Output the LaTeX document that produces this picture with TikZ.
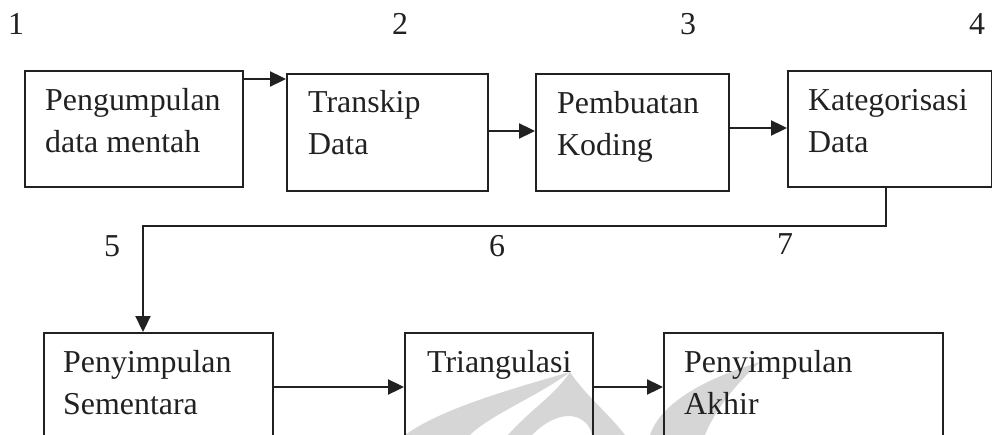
\documentclass[tikz,border=0pt]{standalone}
\usepackage{fontspec}
\setmainfont{Liberation Serif}
\usetikzlibrary{arrows.meta,calc}
\begin{document}
\begin{tikzpicture}[x=1pt,y=-1pt,
  ln/.style={draw=black!87, line width=2.3pt},
  box/.style={ln, rectangle, inner sep=0pt, anchor=north west},
  txt/.style={font=\fontsize{31.9}{42}\selectfont, align=left, inner sep=0pt, anchor=north west, text=black!87},
  num/.style={font=\fontsize{31.9}{38}\selectfont, inner sep=0pt, anchor=base, text=black!87},
  arr/.style={ln, -{Triangle[length=16pt,width=15pt]}},
  wm/.style={fill=black!16, draw=none}]
\useasboundingbox (0,0) rectangle (992,435);
\clip (0,0) rectangle (992,435);
% watermark
\fill[wm] (405,435) .. controls (440,410) and (500,392) .. (570,372)
  .. controls (540,395) and (490,415) .. (470,435) -- cycle;
\fill[wm] (570,372) .. controls (585,395) and (610,415) .. (625,435) -- (592,435)
  .. controls (588,415) and (562,405) .. (532,435) -- (508,435)
  .. controls (530,410) and (555,395) .. (570,372) -- cycle;
\fill[wm] (760,362) .. controls (700,380) and (660,405) .. (650,435) -- (705,435)
  .. controls (715,410) and (735,385) .. (760,362) -- cycle;
% boxes
\node[box, minimum width=218pt, minimum height=116pt] (b1) at (24,70) {};
\node[box, minimum width=201pt, minimum height=117pt] (b2) at (286,73) {};
\node[box, minimum width=193pt, minimum height=117pt] (b3) at (535,73) {};
\node[box, minimum width=204pt, minimum height=116pt] (b4) at (787,70) {};
\node[box, minimum width=229pt, minimum height=118pt] (b5) at (43,332) {};
\node[box, minimum width=188pt, minimum height=118pt] (b6) at (404,332) {};
\node[box, minimum width=279pt, minimum height=118pt] (b7) at (663,332) {};
% texts
\node[txt] (t1) at ($(b1.north west)+(21,10.6)$) {\strut Pengumpulan\\data mentah};
\node[txt] (t2) at ($(b2.north west)+(22,9.6)$) {\strut Transkip\\Data};
\node[txt] (t3) at ($(b3.north west)+(22,10.6)$) {\strut Pembuatan\\Koding};
\node[txt] (t4) at ($(b4.north west)+(21,10.6)$) {\strut Kategorisasi\\Data};
\node[txt] (t5) at ($(b5.north west)+(20,10.6)$) {\strut Penyimpulan\\Sementara};
\node[txt] (t6) at ($(b6.north west)+(23,10.6)$) {\strut Triangulasi};
\node[txt] (t7) at ($(b7.north west)+(21,10.6)$) {\strut Penyimpulan\\Akhir};
% numbers
\node[num] (n1) at (16,35) {1};
\node[num] (n2) at (400,35) {2};
\node[num] (n3) at (688,35) {3};
\node[num] (n4) at (977,35) {4};
\node[num] (n5) at (112,257) {5};
\node[num] (n6) at (497,257) {6};
\node[num] (n7) at (785,255) {7};
% connectors
\coordinate (a1) at ([yshift=-9pt]b1.north east);
\coordinate (a2) at ([yshift=-58pt]b2.north east);
\coordinate (a3) at ([yshift=-55pt]b3.north east);
\coordinate (a5) at ([yshift=-55pt]b5.north east);
\coordinate (a6) at ([yshift=-55pt]b6.north east);
\coordinate (c2) at (143,226);
\draw[arr] (a1) -- (a1 -| b2.west);
\draw[arr] (a2) -- (a2 -| b3.west);
\draw[arr] (a3) -- (a3 -| b4.west);
\draw[arr] ([xshift=-4pt]b4.south) |- (c2) -- (c2 |- b5.north);
\draw[arr] (a5) -- (a5 -| b6.west);
\draw[arr] (a6) -- (a6 -| b7.west);
\end{tikzpicture}
\end{document}
